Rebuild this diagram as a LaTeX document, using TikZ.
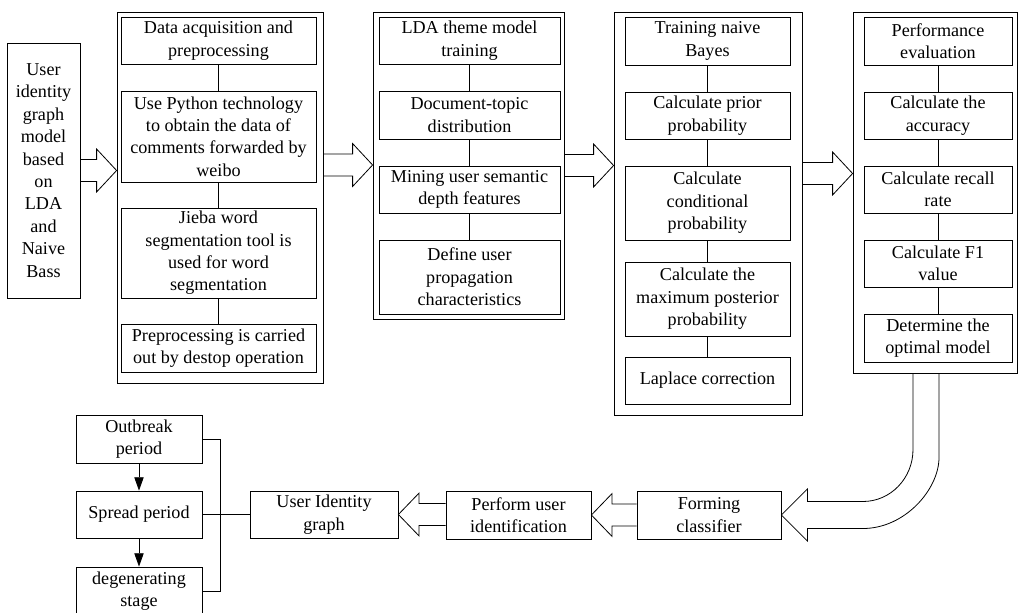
\documentclass[tikz,border=0pt]{standalone}
\usepackage{fontspec}
\setmainfont{Liberation Serif}[Ligatures=TeX]
\newfontfamily\tmfont{Liberation Serif}
\usetikzlibrary{calc,arrows.meta}
\tikzset{
  box/.style={draw, line width=0.6pt, align=center, inner sep=0pt, font=\tmfont\fontsize{13.6}{16.8}\selectfont},
  outerbox/.style={draw, line width=0.6pt, inner sep=0pt},
  fat/.style={draw, line width=0.6pt, line join=miter},
  link/.style={draw, line width=0.6pt},
  smallarrow/.style={draw, line width=0.6pt, -{Triangle[length=10pt,width=7pt]}},
}
% box from corners (px): name, x1, y1, x2, y2, text
\newcommand\bxc[6]{\node[box, minimum width={(#4-#2)*0.75pt}, minimum height={(#5-#3)*0.75pt}] (#1) at ({(#2+#4)/2},{(#3+#5)/2}) {#6};}
\newcommand\obx[5]{\node[outerbox, minimum width={(#4-#2)*0.75pt}, minimum height={(#5-#3)*0.75pt}] (#1) at ({(#2+#4)/2},{(#3+#5)/2}) {};}
% fat arrows: start, tip
\newcommand\fatR[2]{\draw[fat] let \p1=(#1), \p2=(#2) in
  (\x1,\y2+8.25pt) -- (\x2-15pt,\y2+8.25pt) -- (\x2-15pt,\y2+16.1pt) -- (\p2) -- (\x2-15pt,\y2-16.1pt) -- (\x2-15pt,\y2-8.25pt) -- (\x1,\y2-8.25pt);}
\newcommand\fatL[2]{\draw[fat] let \p1=(#1), \p2=(#2) in
  (\x1,\y2+8.25pt) -- (\x2+15.5pt,\y2+8.25pt) -- (\x2+15.5pt,\y2+16.1pt) -- (\p2) -- (\x2+15.5pt,\y2-16.1pt) -- (\x2+15.5pt,\y2-8.25pt) -- (\x1,\y2-8.25pt);}
\begin{document}
\begin{tikzpicture}[x=0.75pt, y=-0.75pt]
\useasboundingbox (0,0) rectangle (1018,613);

% left box
\bxc{L}{7}{43}{80}{298}{User\\identity\\graph\\model\\based\\on\\LDA\\and\\Naive\\Bass}

% column 1
\obx{c1}{117}{12}{323}{383}
\bxc{a1}{121}{17}{316}{64}{Data acquisition and\\preprocessing}
\bxc{a2}{121}{91}{316}{182}{Use Python technology\\to obtain the data of\\comments forwarded by\\weibo}
\bxc{a3}{121}{208}{316}{298}{Jieba word\\segmentation tool is\\used for word\\segmentation}
\bxc{a4}{121}{324}{316}{372}{Preprocessing is carried\\out by destop operation}

% column 2
\obx{c2}{373}{12}{564}{319}
\bxc{b1}{379}{17}{560}{64}{LDA theme model\\training}
\bxc{b2}{379}{91}{560}{139}{Document-topic\\distribution}
\bxc{b3}{379}{166}{560}{213}{Mining user semantic\\depth features}
\bxc{b4}{379}{240}{560}{314}{Define user\\propagation\\characteristics}

% column 3
\obx{c3}{614}{12}{802}{415}
\bxc{d1}{625}{17}{790}{65}{Training naive\\Bayes}
\bxc{d2}{625}{92}{790}{139}{Calculate prior\\probability}
\bxc{d3}{625}{166}{790}{240}{Calculate\\conditional\\probability}
\bxc{d4}{625}{262}{790}{336}{Calculate the\\maximum posterior\\probability}
\bxc{d5}{625}{357}{790}{404}{Laplace correction}

% column 4
\obx{c4}{853}{12}{1017}{373}
\bxc{e1}{864}{17}{1012}{65}{Performance\\evaluation}
\bxc{e2}{864}{92}{1012}{139}{Calculate the\\accuracy}
\bxc{e3}{864}{166}{1012}{213}{Calculate recall\\rate}
\bxc{e4}{864}{240}{1012}{287}{Calculate F1\\value}
\bxc{e5}{864}{314}{1012}{362}{Determine the\\optimal model}

% bottom row
\bxc{F}{637}{491}{781}{539}{Forming\\classifier}
\bxc{P}{446}{491}{591}{539}{Perform user\\identification}
\bxc{U}{250}{491}{398}{538}{User Identity\\graph}
\bxc{O}{76}{415}{202}{463}{Outbreak\\period}
\bxc{S}{76}{491}{202}{538}{Spread period}
\bxc{D}{76}{567}{202}{615}{degenerating\\stage}

% inner links
\foreach \u/\v in {a1/a2,a2/a3,a3/a4,b1/b2,b2/b3,b3/b4,d1/d2,d2/d3,d3/d4,d4/d5,e1/e2,e2/e3,e3/e4,e4/e5}
  \draw[link] (\u.south) -- (\v.north);

% fat arrows
\fatR{L.east}{c1.west |- L.east}
\coordinate (a2s) at ($(c1.east)+(0,-32.5)$);
\fatR{a2s}{c2.west |- a2s}
\fatR{c2.east}{c3.west |- c2.east}
\coordinate (a4s) at ($(c3.east)+(0,-40)$);
\fatR{a4s}{c4.west |- a4s}
\fatL{F.west}{P.east}
\fatL{P.west}{U.east}

% curved fat arrow
\draw[fat] let \p1=(c4.south), \p2=(F.east),
  \p3=(\x1-16.5pt,\y2+10.125pt), \p4=(\x1+3pt,\y2-10.125pt) in
  (\x3,\y1) -- (\x3,\y3+39pt) .. controls (\x3,\y3+17.47pt) and (\x3-16.8pt,\y3) .. (\x3-37.5pt,\y3)
  -- (\x2+19.5pt,\y3) -- (\x2+19.5pt,\y2+19.5pt) -- (\p2) -- (\x2+19.5pt,\y2-19.5pt) -- (\x2+19.5pt,\y4)
  -- (\x3-37.5pt,\y4) .. controls (\x3-6.04pt,\y4) and (\x4,\y4+29.39pt) .. (\x4,\y4+53.25pt) -- (\x4,\y1);

% stage links
\draw[smallarrow] (O.south) -- (S.north);
\draw[smallarrow] (S.south) -- (D.north);
\draw[link] (O.east) -- ++(18,0) |- (D.east);
\draw[link] (S.east) -- (U.west);
\end{tikzpicture}
\end{document}
